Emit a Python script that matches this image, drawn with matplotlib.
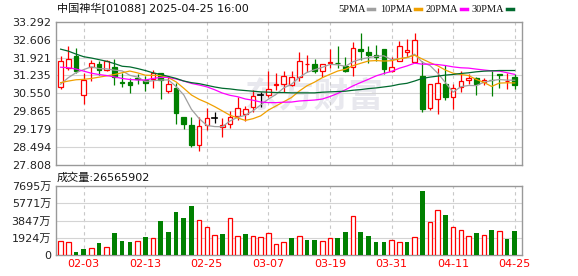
import matplotlib
matplotlib.use("Agg")
import matplotlib.pyplot as plt
from matplotlib.patches import Rectangle
from matplotlib.lines import Line2D

plt.rcParams['font.family'] = ['DejaVu Sans', 'Noto Sans CJK SC']

# 交易日 (2025-01-24 .. 2025-04-25, 60 根)
dates = ["01-24", "01-27", "01-28",
         "02-03", "02-04", "02-05", "02-06", "02-07", "02-10", "02-11", "02-12", "02-13", "02-14",
         "02-17", "02-18", "02-19", "02-20", "02-21", "02-24", "02-25", "02-26", "02-27", "02-28",
         "03-03", "03-04", "03-05", "03-06", "03-07", "03-10", "03-11", "03-12", "03-13", "03-14",
         "03-17", "03-18", "03-19", "03-20", "03-21", "03-24", "03-25", "03-26", "03-27", "03-28",
         "03-31", "04-01", "04-02", "04-03", "04-07", "04-08", "04-09", "04-10", "04-11",
         "04-14", "04-15", "04-16", "04-17", "04-22", "04-23", "04-24", "04-25"]

opens = [30.795, 31.525, 31.990, 30.493, 31.550, 31.663, 31.437, 31.550, 30.996, 30.984,
         31.135, 31.047, 31.097, 31.323, 30.644, 30.745, 29.638, 29.324, 28.569, 29.324,
         29.588, 29.261, 29.362, 29.689, 29.764, 30.041, 30.470, 30.493, 30.871, 30.896,
         30.871, 31.172, 31.663, 31.676, 31.399, 31.713, 31.726, 31.613, 31.550, 32.241,
         32.128, 32.002, 32.241, 31.399, 31.801, 32.116, 31.738, 31.210, 29.990, 30.330,
         30.921, 30.418, 30.795, 31.047, 31.147, 30.996, 31.072, 31.298, 31.009, 31.172]
highs = [31.965, 32.380, 32.279, 31.336, 31.826, 31.776, 31.826, 31.852, 31.336, 31.147,
         31.298, 31.210, 31.462, 31.323, 31.198, 30.959, 29.638, 29.663, 29.638, 29.990,
         29.827, 29.613, 29.865, 30.418, 30.066, 30.669, 30.619, 31.399, 31.323, 31.424,
         31.399, 32.128, 32.002, 31.864, 31.663, 32.241, 32.380, 31.940, 32.531, 32.845,
         32.380, 32.405, 32.241, 31.927, 32.556, 32.619, 32.845, 31.776, 30.921, 31.525,
         31.625, 30.921, 31.399, 31.273, 31.172, 31.147, 31.399, 31.298, 31.336, 31.273]
lows = [30.707, 31.462, 31.336, 30.141, 31.022, 31.248, 31.399, 30.858, 30.795, 30.556,
        30.896, 30.644, 30.745, 30.330, 30.556, 29.387, 29.173, 28.481, 28.343, 29.135,
        29.412, 28.884, 29.236, 29.538, 29.487, 29.852, 30.041, 30.393, 30.695, 30.619,
        30.833, 31.022, 31.374, 31.336, 31.172, 31.525, 31.525, 31.361, 31.210, 31.839,
        31.713, 31.776, 31.298, 31.361, 31.776, 31.927, 31.713, 29.827, 29.915, 29.764,
        30.292, 29.953, 30.619, 30.896, 30.481, 30.858, 30.431, 30.745, 30.707, 30.707]
closes = [31.776, 31.852, 31.424, 31.072, 31.701, 31.437, 31.801, 31.172, 30.933, 30.858,
          31.085, 30.959, 31.336, 31.047, 30.908, 29.802, 29.362, 28.569, 29.286, 29.588,
          29.588, 29.324, 29.663, 30.003, 29.965, 30.456, 30.470, 30.732, 30.908, 31.210,
          31.172, 31.776, 31.688, 31.424, 31.663, 31.738, 31.701, 31.399, 32.304, 32.153,
          32.028, 31.952, 31.500, 31.550, 32.380, 32.216, 32.593, 29.953, 30.921, 30.930,
          30.418, 30.745, 31.022, 31.147, 30.896, 31.072, 31.047, 31.235, 31.034, 30.871]
# 成交量 (万股)
volumes = [1591, 1480, 370, 740, 814, 1369, 925, 2479, 1628, 1517,
           1591, 2035, 1924, 3848, 2590, 4847, 4144, 5476, 3922, 3145,
           2257, 2368, 4144, 2146, 2368, 2146, 2035, 2479, 1258, 1480,
           1961, 2146, 1702, 1702, 1591, 1924, 1961, 2590, 4366, 2590,
           2146, 1517, 1517, 1702, 1480, 1480, 2035, 7141, 3700, 5032,
           4477, 3145, 2812, 2146, 2479, 2257, 2849, 2701, 1850, 2657]

ma5 = [30.90, 31.15, 31.34, 31.46, 31.565, 31.497, 31.487, 31.437, 31.409, 31.240,
       31.170, 31.001, 31.034, 31.057, 31.067, 30.810, 30.491, 29.938, 29.585, 29.321,
       29.279, 29.271, 29.490, 29.633, 29.709, 29.882, 30.11, 30.33, 30.51, 30.76,
       30.90, 31.16, 31.351, 31.454, 31.545, 31.658, 31.643, 31.585, 31.761, 31.859,
       31.917, 31.967, 31.987, 31.837, 31.882, 31.920, 32.048, 31.738, 31.613, 31.321,
       30.961, 30.592, 30.805, 30.851, 30.846, 30.976, 31.037, 31.079, 31.057, 31.052]
ma10 = [30.96, 31.02, 31.07, 31.085, 31.12, 31.17, 31.22, 31.27, 31.34, 31.403,
        31.334, 31.244, 31.236, 31.233, 31.154, 30.990, 30.746, 30.486, 30.321, 30.194,
        30.045, 29.881, 29.714, 29.609, 29.515, 29.581, 29.69, 29.91, 30.07, 30.23,
        30.39, 30.635, 30.838, 30.98, 31.15, 31.278, 31.404, 31.47, 31.61, 31.702,
        31.788, 31.805, 31.786, 31.799, 31.871, 31.919, 32.008, 31.863, 31.725, 31.602,
        31.441, 31.320, 31.272, 31.232, 31.084, 30.969, 30.815, 30.942, 30.954, 30.949]
ma20 = [31.55, 31.53, 31.48, 31.40, 31.32, 31.27, 31.23, 31.18, 31.12, 31.08,
        31.06, 31.06, 31.12, 31.16, 31.16, 31.10, 31.02, 30.93, 30.87, 30.799,
        30.690, 30.563, 30.475, 30.421, 30.335, 30.286, 30.218, 30.196, 30.194, 30.212,
        30.217, 30.257, 30.275, 30.294, 30.332, 30.429, 30.546, 30.687, 30.838, 30.966,
        31.088, 31.219, 31.311, 31.389, 31.510, 31.598, 31.705, 31.666, 31.667, 31.652,
        31.615, 31.563, 31.529, 31.516, 31.478, 31.444, 31.412, 31.403, 31.340, 31.276]
ma30 = [32.241, 32.166, 32.053, 31.952, 31.902, 31.839, 31.776, 31.688, 31.587, 31.562,
        31.499, 31.424, 31.336, 31.273, 31.198, 31.122, 31.022, 30.959, 30.921, 30.858,
        30.795, 30.745, 30.720, 30.682, 30.657, 30.632, 30.607, 30.594, 30.581, 30.581,
        30.569, 30.569, 30.569, 30.569, 30.594, 30.607, 30.619, 30.632, 30.669, 30.695,
        30.732, 30.757, 30.795, 30.833, 30.896, 30.934, 31.022, 31.122, 31.172, 31.210,
        31.248, 31.273, 31.311, 31.336, 31.374, 31.399, 31.412, 31.424, 31.424, 31.424]

price_ticks = [27.808, 28.494, 29.179, 29.865, 30.550, 31.235, 31.921, 32.606, 33.292]
price_labels = ["27.808", "28.494", "29.179", "29.865", "30.550", "31.235", "31.921", "32.606", "33.292"]
vol_ticks = [0, 1924, 3847, 5771, 7695]
vol_labels = ["0", "1924万", "3847万", "5771万", "7695万"]
date_ticks = ["02-03", "02-13", "02-25", "03-07", "03-19", "03-31", "04-11", "04-25"]

title = "中国神华[01088] 2025-04-25 16:00"
vol_title = "成交量:26565902"
ma_names = ["5PMA", "10PMA", "20PMA", "30PMA"]

RED = "#ff0000"
GREEN = "#008000"
MA_COLORS = ["#a0a0a0", "#f0a000", "#ff00ff", "#006a2e"]
GRID = "#d4d4d4"
FRAME = "#999999"

W, H = 578, 276
fig = plt.figure(figsize=(W / 100, H / 100), dpi=100)
ax = fig.add_axes([56 / W, 1 - 165 / H, 466 / W, 143.3 / H])
axv = fig.add_axes([56 / W, 1 - 255.3 / H, 466 / W, 69.3 / H])

n = len(dates)
xs = list(range(n))
tick_pos = [dates.index(d) for d in date_ticks]
bw = 0.6

# 水印
ax.text(0.555, 0.48, "东方财富", transform=ax.transAxes, fontsize=25, fontweight="bold",
        color="#e8e8ee", ha="center", va="center", family=["Noto Sans CJK SC"], zorder=0)

for a in (ax, axv):
    a.set_xlim(-0.6, n - 0.05)
    for t in tick_pos:
        a.axvline(t, color="#c8c8c8", lw=0.8, ls=(0, (3, 3)), zorder=1)
    for s in a.spines.values():
        s.set_color(FRAME)
        s.set_linewidth(1.0)
    a.tick_params(length=0)

ax.set_ylim(price_ticks[0], price_ticks[-1])
ax.set_yticks(price_ticks)
ax.set_yticklabels(price_labels, fontsize=8, color="#222222")
ax.set_xticks([])
for p in price_ticks[1:-1]:
    ax.axhline(p, color=GRID, lw=0.8, zorder=1)

# K线
for i in xs:
    o, h, l, c = opens[i], highs[i], lows[i], closes[i]
    if c > o:
        col, face = RED, "white"
    elif c < o:
        col, face = GREEN, GREEN
    else:
        col, face = "black", "black"
    ax.plot([i, i], [l, h], color=col, lw=0.9, zorder=3, solid_capstyle="butt")
    bot, top = min(o, c), max(o, c)
    if top - bot < 0.012:
        ax.plot([i - bw / 2, i + bw / 2], [c, c], color=col, lw=1.2, zorder=4)
    else:
        ax.add_patch(Rectangle((i - bw / 2, bot), bw, top - bot, facecolor=face,
                               edgecolor=col, lw=0.9, zorder=4))

for vals, col in zip([ma5, ma10, ma20, ma30], MA_COLORS):
    ax.plot(xs, vals, color=col, lw=0.9, zorder=5)

# 成交量
axv.set_ylim(0, vol_ticks[-1])
axv.set_yticks(vol_ticks)
axv.set_yticklabels(vol_labels, fontsize=8, color="#222222")
for v in vol_ticks[1:-1]:
    axv.axhline(v, color=GRID, lw=0.8, zorder=1)
for i in xs:
    prev = closes[i - 1] if i > 0 else opens[i]
    if closes[i] >= prev:
        axv.bar(i, volumes[i], width=bw, facecolor="white", edgecolor=RED, lw=0.9, zorder=3)
    else:
        axv.bar(i, volumes[i], width=bw, color=GREEN, lw=0, zorder=3)
axv.set_xticks(tick_pos)
axv.set_xticklabels(date_ticks, fontsize=8, color=RED)
axv.tick_params(axis="x", pad=3)

# 标题与图例
fig.text(57 / W, 1 - 9 / H, title, fontsize=8, color="#111111", va="center", ha="left")
fig.text(57 / W, 1 - 178 / H, vol_title, fontsize=8, color="#111111", va="center", ha="left")

leg_x = [338, 380, 426, 472]
for name, col, lx in zip(ma_names, MA_COLORS, leg_x):
    t = fig.text(lx / W, 1 - 9 / H, name, fontsize=7.5, color="#111111", va="center", ha="left",
                 family=["Liberation Serif"])
fig.canvas.draw()
renderer = fig.canvas.get_renderer()
for t, col in zip(fig.texts[-4:], MA_COLORS):
    bb = t.get_window_extent(renderer)
    x0 = bb.x1 + 2
    fig.add_artist(Line2D([x0 / W, (x0 + 6) / W], [1 - 9 / H, 1 - 9 / H], color=col, lw=2.5,
                          transform=fig.transFigure))

fig.savefig("out.png", dpi=100)
